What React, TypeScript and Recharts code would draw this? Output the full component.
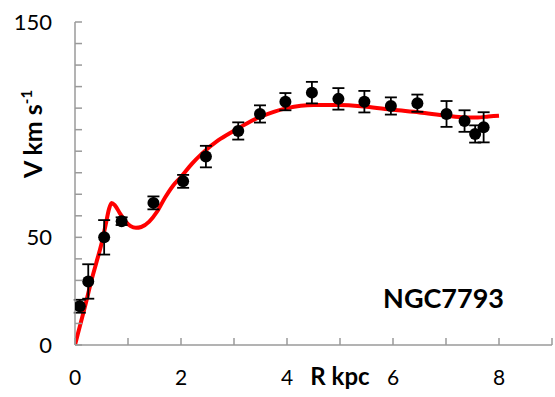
import React from 'react';
import { ComposedChart, Line, Scatter, XAxis, YAxis, ErrorBar } from 'recharts';

// Observed rotation curve points: radius (kpc), velocity (km/s), error (km/s)
const obsR = [0.09, 0.25, 0.55, 0.88, 1.48, 2.04, 2.47, 3.08, 3.49, 3.97, 4.47, 4.97, 5.46, 5.96, 6.46, 7.01, 7.35, 7.55, 7.71];
const obsV = [18, 29.5, 50, 57.5, 66, 76, 87.5, 99.4, 107.3, 113, 117.2, 114.3, 113, 111, 112.3, 107.3, 104, 98, 101.1];
const obsE = [3, 8, 8, 1.8, 3, 3, 5, 4, 4, 4, 5, 5, 5, 4, 4, 6, 5, 4, 7];

// Model curve (red)
const modelR = [0, 0.1, 0.2, 0.3, 0.4, 0.5, 0.58, 0.64, 0.69, 0.75, 0.85, 0.95, 1.05, 1.15, 1.25, 1.4, 1.55, 1.7, 1.85, 2.0, 2.2, 2.4, 2.7, 3.0, 3.25, 3.5, 3.75, 4.0, 4.5, 5.0, 5.5, 6.0, 6.5, 7.0, 7.35, 7.6, 7.8, 8.0];
const modelV = [0, 9.5, 19, 29, 38, 47, 56, 63, 66, 65, 61, 57.5, 55.2, 54.4, 54.8, 57.3, 62, 68.5, 74, 78, 84, 89, 95, 99.5, 103, 106, 108.3, 110, 111.5, 111.5, 110.6, 109.2, 108, 106.5, 105.7, 105.7, 106.1, 106.5];

const xTicks = [0, 1, 2, 3, 4, 5, 6, 7, 8, 9];
const xLabels = [0, 2, 4, 6, 8];
const yTicks = [0, 10, 20, 30, 40, 50, 60, 70, 80, 90, 100, 110, 120, 130, 140, 150];
const yLabels = [0, 50, 150];

const galaxyName = 'NGC7793';

const obsData = obsR.map((r, i) => ({ r, v: obsV[i], e: obsE[i] }));
const modelData = modelR.map((r, i) => ({ r, v: modelV[i] }));

const FRAME = '#9a9a9a';
const FONT = 'Lato, "Open Sans", sans-serif';

const Dot = (props: any) => {
  const { cx, cy } = props;
  if (cx == null || cy == null) return null;
  return <circle cx={cx} cy={cy} r={6} fill="#000" />;
};

export default function App() {
  return (
    <div style={{ position: 'absolute', left: 0, top: 0, width: 555, height: 397, background: '#fff' }}>
      <ComposedChart
        width={555}
        height={397}
        margin={{ top: 22, right: 3, bottom: 22, left: 0 }}
        style={{ fontFamily: FONT }}
      >
        <XAxis
          xAxisId={0}
          dataKey="r"
          type="number"
          domain={[0, 9]}
          ticks={xTicks}
          height={30}
          tickSize={-7}
          tickMargin={32}
          axisLine={{ stroke: FRAME, strokeWidth: 1.5 }}
          tickLine={{ stroke: FRAME, strokeWidth: 1.5 }}
          tick={{ fill: '#000', fontSize: 21, fontFamily: FONT }}
          tickFormatter={(v: number) => (xLabels.includes(v) ? String(v) : '')}
          allowDataOverflow
        />
        <XAxis
          xAxisId="top"
          orientation="top"
          type="number"
          domain={[0, 9]}
          ticks={xTicks}
          height={0}
          tickSize={-7}
          axisLine={{ stroke: FRAME, strokeWidth: 1.5 }}
          tickLine={{ stroke: FRAME, strokeWidth: 1.5 }}
          tickFormatter={() => ''}
        />
        <YAxis
          yAxisId={0}
          type="number"
          domain={[0, 150]}
          ticks={yTicks}
          width={75}
          tickSize={-7}
          tickMargin={30}
          axisLine={{ stroke: FRAME, strokeWidth: 1.5 }}
          tickLine={{ stroke: FRAME, strokeWidth: 1.5 }}
          tick={{ fill: '#000', fontSize: 22, fontFamily: FONT }}
          tickFormatter={(v: number) => (yLabels.includes(v) ? String(v) : '')}
          allowDataOverflow
        />
        <YAxis
          yAxisId="right"
          orientation="right"
          type="number"
          domain={[0, 150]}
          ticks={yTicks}
          width={0}
          tickSize={-7}
          axisLine={{ stroke: FRAME, strokeWidth: 1.5 }}
          tickLine={{ stroke: FRAME, strokeWidth: 1.5 }}
          tickFormatter={() => ''}
        />
        <Line
          data={modelData}
          dataKey="v"
          type="monotone"
          stroke="#ff0000"
          strokeWidth={4}
          dot={false}
          activeDot={false}
          isAnimationActive={false}
        />
        <Scatter data={obsData} dataKey="v" shape={<Dot />} isAnimationActive={false}>
          <ErrorBar dataKey="e" direction="y" width={6} stroke="#000" strokeWidth={1.8} />
        </Scatter>
        <text x={340} y={385} textAnchor="middle" fontSize={24} fontWeight="bold" fill="#000" fontFamily={FONT}>
          R kpc
        </text>
        <text
          transform="translate(42,134) rotate(-90)"
          textAnchor="middle"
          fontSize={25}
          fontWeight="bold"
          fill="#000"
          fontFamily={FONT}
        >
          V km s<tspan fontSize={15} dy={-10}>-1</tspan>
        </text>
        <text x={504} y={308} textAnchor="end" fontSize={27} fontWeight="bold" fill="#000" fontFamily={FONT}>
          {galaxyName}
        </text>
      </ComposedChart>
    </div>
  );
}
